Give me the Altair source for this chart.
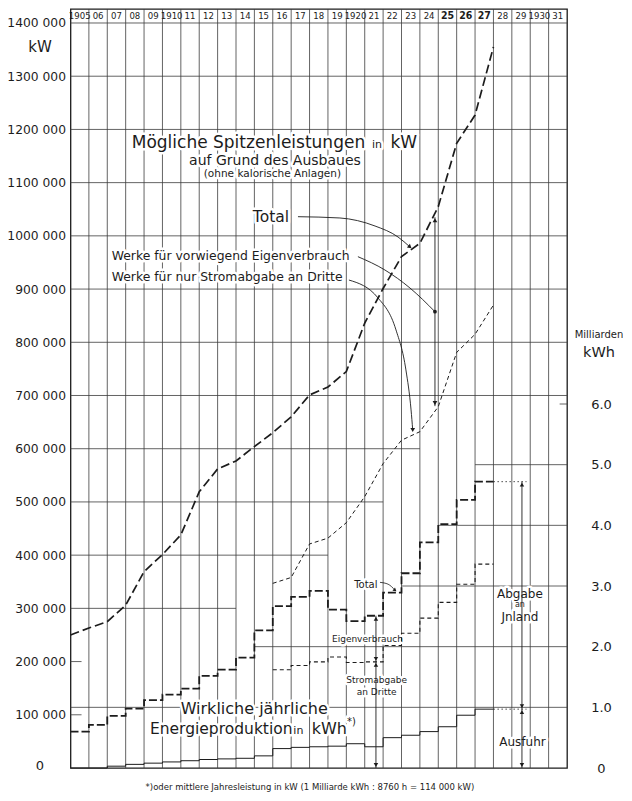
import altair as alt
import pandas as pd

# ---------------- data ----------------
header_years = list(range(1905, 1932))
header_labels = ["1905", "06", "07", "08", "09", "1910", "11", "12", "13", "14",
                 "15", "16", "17", "18", "19", "1920", "21", "22", "23", "24",
                 "25", "26", "27", "28", "29", "1930", "31"]
header_bold = ["25", "26", "27"]

# possible peak power (kW), vertices at the year lines
peak_years = list(range(1905, 1929))
peak_total_kw = [250000, 263000, 275000, 306000, 369000, 401000, 438000, 519000,
                 562000, 577000, 604000, 630000, 660000, 701000, 716000, 745000,
                 836000, 901000, 961000, 986000, 1055000, 1174000, 1227000, 1355000]
peak_dritte_years = list(range(1916, 1929))
peak_dritte_kw = [347000, 358000, 421000, 432000, 461000, 510000, 572000, 616000,
                  632000, 679000, 781000, 815000, 870000]

# actual yearly production (Milliarden kWh), one step per year
prod_years = list(range(1905, 1928))
prod_total_bn = [0.60, 0.71, 0.86, 0.98, 1.12, 1.21, 1.31, 1.52, 1.62, 1.82, 2.27, 2.67,
                 2.82, 2.92, 2.61, 2.42, 2.51, 2.89, 3.21, 3.72, 4.02, 4.42, 4.72]
prod_dritte_years = list(range(1916, 1928))
prod_dritte_bn = [1.62, 1.69, 1.75, 1.83, 1.74, 1.75, 2.02, 2.22, 2.47, 2.73, 3.03, 3.36]
prod_export_bn = [0.0, 0.0, 0.03, 0.06, 0.08, 0.10, 0.12, 0.14, 0.15, 0.16, 0.20, 0.32,
                  0.34, 0.35, 0.36, 0.40, 0.35, 0.50, 0.54, 0.60, 0.68, 0.87, 0.97]

kw_ticks = list(range(100000, 1400001, 100000))
kwh_ticks = [0, 1, 2, 3, 4, 5, 6]
kw_grid_levels = [1400000, 1300000, 1200000, 1100000, 1000000, 900000, 800000,
                  700000, 600000, 500000, 400000, 300000, 200000, 100000]
kw_grid_from = [1905] * 14
kw_grid_to = [1932] * 8 + [1924, 1922, 1919, 1914, 1905.6, 1905.6]
kwh_grid_levels = [1, 2, 3, 4, 5, 6]
kwh_grid_from = [1905, 1915, 1923, 1925, 1927, 1931.6]
kwh_grid_to = [1932] * 6

KWH_IN_KW = 114000  # 1 Milliarde kWh / 8760 h

# ---------------- styling ----------------
FONT = "DejaVu Sans"
NARROW = "DejaVu Sans Condensed, Liberation Sans Narrow, DejaVu Sans"
INK = "#1c1c1c"
GRID = "#3c3c3c"
KW_TOP = 1426300
KWH_TOP = KW_TOP / KWH_IN_KW

xs = alt.Scale(domain=[1905, 1932], nice=False, zero=False)


def X(f="x"):
    return alt.X(f"{f}:Q", scale=xs, axis=None)


def Ykw(f="y", axis=None):
    return alt.Y(f"{f}:Q", scale=alt.Scale(domain=[0, KW_TOP], nice=False, zero=True), axis=axis)


def Ykwh(f="y", axis=None):
    return alt.Y(f"{f}:Q", scale=alt.Scale(domain=[0, KWH_TOP], nice=False, zero=True), axis=axis)


def steps(years, vals):
    return pd.DataFrame({"x": list(years) + [years[-1] + 1],
                         "y": list(vals) + [vals[-1]]})


def text_layers(rows, yenc, align, baseline="alphabetic", font=FONT, weight="normal", halo=True):
    df = pd.DataFrame(rows, columns=["t", "x", "y", "s"])
    base = alt.Chart(df).encode(x=X(), y=yenc(), text="t:N",
                                size=alt.Size("s:Q", scale=None))
    halo_l = base.mark_text(align=align, baseline=baseline, font=font, fontWeight=weight,
                            fill="white", stroke="white", strokeWidth=5, strokeJoin="round")
    txt = base.mark_text(align=align, baseline=baseline, font=font, fontWeight=weight,
                         fill=INK)
    return ([halo_l] if halo else []), [txt]


left_axis = alt.Axis(values=kw_ticks, grid=False, ticks=False, domain=False, title=None,
                     labelExpr="format(datum.value / 1000, 'd') + ' 000'",
                     labelFont=FONT, labelFontSize=12.3, labelPadding=5, labelColor=INK,
                     labelBaseline="middle")
right_axis = alt.Axis(orient="right", values=kwh_ticks, grid=False, ticks=False, domain=False,
                      title=None, labelExpr="datum.value == 0 ? '0' : format(datum.value, '.1f')",
                      labelFont=FONT, labelFontSize=13, labelPadding=34, labelAlign="center",
                      labelColor=INK, labelBaseline="middle")

# ---------------- kW layers ----------------
vgrid = alt.Chart(pd.DataFrame({"x": header_years[1:]})).mark_rule(
    color=GRID, strokeWidth=0.8).encode(x=X())

kw_grid = alt.Chart(pd.DataFrame({"y": kw_grid_levels, "x": kw_grid_from, "x2": kw_grid_to})).mark_rule(
    color=GRID, strokeWidth=0.8).encode(x=X(), x2="x2:Q", y=Ykw(axis=left_axis))

hdr_df = pd.DataFrame({"x": [y + 0.5 for y in header_years], "t": header_labels})
hdr_df["y"] = 1413000
hdr_df["b"] = hdr_df["t"].isin(header_bold)
hdr_norm = alt.Chart(hdr_df).transform_filter("!datum.b").mark_text(
    font=NARROW, fontSize=9.5, baseline="middle", align="center", fill=INK).encode(
    x=X(), y=Ykw(), text="t:N")
hdr_bold = alt.Chart(hdr_df).transform_filter("datum.b").mark_text(
    font=NARROW, fontSize=10.5, fontWeight="bold", baseline="middle", align="center", fill=INK).encode(
    x=X(), y=Ykw(), text="t:N")

peak_total = alt.Chart(pd.DataFrame({"x": peak_years, "y": peak_total_kw})).mark_line(
    color=INK, strokeWidth=1.7, strokeDash=[9, 4]).encode(x=X(), y=Ykw())
peak_dritte = alt.Chart(pd.DataFrame({"x": peak_dritte_years, "y": peak_dritte_kw})).mark_line(
    color=INK, strokeWidth=1.0, strokeDash=[4, 3]).encode(x=X(), y=Ykw())

# annotation arrows (kW)
a_rule = alt.Chart(pd.DataFrame({"x": [1924.82], "y": [1035000], "y2": [680000]})).mark_rule(
    color=INK, strokeWidth=0.9).encode(x=X(), y=Ykw(), y2="y2:Q")
a_curves_df = pd.DataFrame({
    "id": ["t"] * 5 + ["e"] * 4 + ["d"] * 6,
    "x": [1917.37, 1919.65, 1921.56, 1922.81, 1923.46,
          1920.63, 1922.10, 1923.46, 1924.82,
          1920.14, 1921.72, 1922.70, 1923.24, 1923.52, 1923.61],
    "y": [1036000, 1033600, 1018500, 997900, 979100,
          960900, 935800, 902000, 857500,
          917000, 883500, 823300, 748100, 672900, 635300],
})
a_curves = alt.Chart(a_curves_df).mark_line(color=INK, strokeWidth=0.9, interpolate="monotone").encode(
    x=X(), y=Ykw(), detail="id:N")
a_up = alt.Chart(pd.DataFrame({"x": [1924.82], "y": [1035000]})).mark_point(
    shape="triangle-up", filled=True, size=22, color=INK, opacity=1, yOffset=3).encode(x=X(), y=Ykw())
a_down = alt.Chart(pd.DataFrame({"x": [1924.82], "y": [680000]})).mark_point(
    shape="triangle-down", filled=True, size=22, color=INK, opacity=1, yOffset=-3).encode(x=X(), y=Ykw())
a_heads = alt.Chart(pd.DataFrame({"x": [1923.46, 1923.61], "y": [979100, 635300], "a": [310, 0]})).mark_point(
    shape="triangle-down", filled=True, size=22, color=INK, opacity=1).encode(
    x=X(), y=Ykw(), angle=alt.Angle("a:Q", scale=None))
a_dot = alt.Chart(pd.DataFrame({"x": [1924.82], "y": [857500]})).mark_point(
    shape="circle", filled=True, size=14, color=INK, opacity=1).encode(x=X(), y=Ykw())

kw_left_txt = [
    ("Mögliche Spitzenleistungen", 1908.33, 1164600, 17),
    ("in", 1921.39, 1164600, 11),
    ("kW", 1922.4, 1164600, 17),
    ("Werke für vorwiegend Eigenverbrauch", 1907.24, 954600, 12.4),
    ("Werke für nur Stromabgabe an Dritte", 1907.24, 915700, 12.4),
]
kw_center_txt = [
    ("auf Grund des Ausbaues", 1916.12, 1133200, 14),
    ("(ohne kalorische Anlagen)", 1915.98, 1110000, 10.5),
    ("Total", 1915.9, 1026000, 15.5),
    ("kW", 1903.34, 1345500, 15),
    ("0", 1903.34, -3000, 13),
]
h1, t1 = text_layers(kw_left_txt, Ykw, "left")
h2, t2 = text_layers(kw_center_txt, Ykw, "center")

kw_layers = [kw_grid, vgrid, *h1, *h2, peak_total, peak_dritte, a_rule, a_curves,
             a_up, a_down, a_heads, a_dot, *t1, *t2, hdr_norm, hdr_bold]

# ---------------- kWh layers ----------------
kwh_grid = alt.Chart(pd.DataFrame({"y": kwh_grid_levels, "x": kwh_grid_from, "x2": kwh_grid_to})).mark_rule(
    color=GRID, strokeWidth=0.8).encode(x=X(), x2="x2:Q", y=Ykwh(axis=right_axis))

s_total = alt.Chart(steps(prod_years, prod_total_bn)).mark_line(
    color=INK, strokeWidth=1.8, strokeDash=[8, 3], interpolate="step-after").encode(x=X(), y=Ykwh())
s_dritte = alt.Chart(steps(prod_dritte_years, prod_dritte_bn)).mark_line(
    color=INK, strokeWidth=1.1, strokeDash=[4, 3], interpolate="step-after").encode(x=X(), y=Ykwh())
s_export = alt.Chart(steps(prod_years, prod_export_bn)).mark_line(
    color=INK, strokeWidth=1.0, interpolate="step-after").encode(x=X(), y=Ykwh())
ext_df = pd.DataFrame({"x": [prod_years[-1] + 1] * 2, "x2": [1929.8] * 2,
                       "y": [prod_total_bn[-1], prod_export_bn[-1]]})
s_ext = alt.Chart(ext_df).mark_rule(color=INK, strokeWidth=0.8, strokeDash=[1.5, 2.5]).encode(
    x=X(), x2="x2:Q", y=Ykwh())

b_rules_df = pd.DataFrame({"x": [1921.61, 1921.61, 1929.55, 1929.55],
                           "y": [prod_total_bn[16], prod_dritte_bn[5], prod_total_bn[-1], prod_export_bn[-1]],
                           "y2": [prod_dritte_bn[5], 0, prod_export_bn[-1], 0]})
b_rules = alt.Chart(b_rules_df).mark_rule(color=INK, strokeWidth=0.9).encode(x=X(), y=Ykwh(), y2="y2:Q")
b_up = alt.Chart(b_rules_df).mark_point(
    shape="triangle-up", filled=True, size=20, color=INK, opacity=1, yOffset=3).encode(x=X(), y=Ykwh())
b_down = alt.Chart(b_rules_df).mark_point(
    shape="triangle-down", filled=True, size=20, color=INK, opacity=1, yOffset=-3).encode(x=X(), y=Ykwh("y2"))
b_curve = alt.Chart(pd.DataFrame({"x": [1921.83, 1922.27, 1922.65], "y": [3.06, 3.03, 2.93]})).mark_line(
    color=INK, strokeWidth=0.8, interpolate="monotone").encode(x=X(), y=Ykwh())
b_head = alt.Chart(pd.DataFrame({"x": [1922.65], "y": [2.93]})).mark_point(
    shape="triangle-down", filled=True, size=16, color=INK, opacity=1, angle=310).encode(x=X(), y=Ykwh())

kwh_left_txt = [
    ("Energieproduktion", 1909.32, 0.56, 15.5),
    ("in", 1917.12, 0.56, 11),
    ("kWh", 1918.12, 0.56, 16),
    ("*)", 1920.04, 0.71, 10),
]
kwh_center_txt = [
    ("Wirkliche jährliche", 1914.99, 0.89, 16),
    ("Total", 1921.06, 2.97, 10),
    ("Eigenverbrauch", 1921.15, 2.085, 9),
    ("Stromabgabe", 1921.65, 1.40, 9),
    ("an Dritte", 1921.65, 1.21, 9),
    ("Abgabe", 1929.44, 2.81, 12),
    ("an", 1929.44, 2.65, 8),
    ("Jnland", 1929.44, 2.415, 12),
    ("Ausfuhr", 1929.58, 0.37, 12),
    ("Milliarden", 1933.74, 7.08, 10),
    ("kWh", 1933.74, 6.77, 14.5),
    ("*)oder mittlere Jahresleistung in kW  (1 Milliarde kWh : 8760 h = 114 000 kW)", 1918.02, -0.363, 8.5),
]
h3, t3 = text_layers(kwh_left_txt, Ykwh, "left")
h4, t4 = text_layers(kwh_center_txt, Ykwh, "center")

kwh_layers = [kwh_grid, *h3, *h4, s_export, s_dritte, s_total, s_ext, b_rules, b_up, b_down,
              b_curve, b_head, *t3, *t4]

chart = alt.layer(*kw_layers, *kwh_layers).resolve_scale(y="independent").properties(
    width=496.5, height=759,
    padding={"left": 62.5, "top": 1, "right": 56, "bottom": 30},
    autosize=alt.AutoSizeParams(type="none"),
    background="white",
).configure_view(stroke=INK, strokeWidth=1.3)

chart.save("out.html", embed_options={"renderer": "svg", "actions": False})
